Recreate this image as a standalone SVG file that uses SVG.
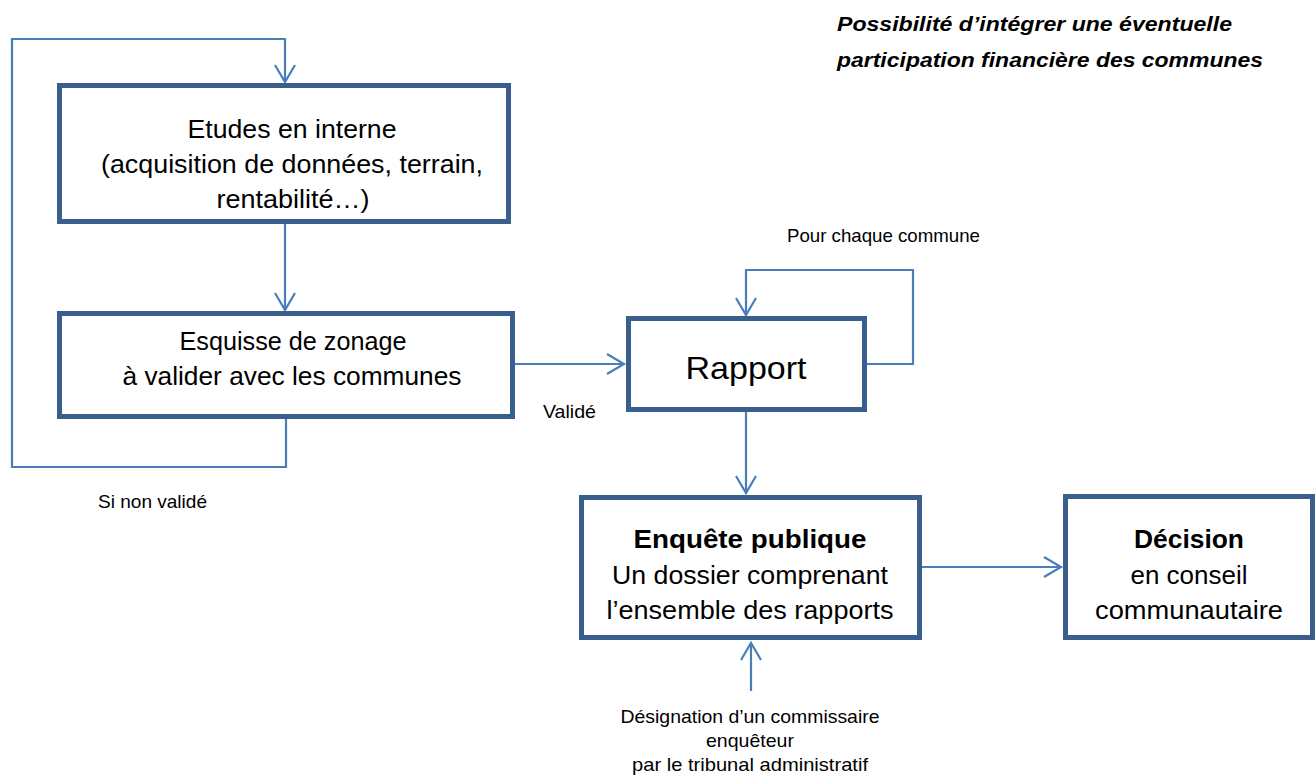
<svg xmlns="http://www.w3.org/2000/svg" width="1316" height="776" viewBox="0 0 1316 776">
<defs>
<style>
.box{fill:#ffffff;stroke:#3B5F8C;stroke-width:5}
.con{fill:none;stroke:#4A7EBB;stroke-width:2.2}
text{font-family:"Liberation Sans",Arial,sans-serif;fill:#000}
.main{font-size:26px;text-anchor:middle}
.big{font-size:32px;text-anchor:middle}
.bold{font-weight:bold}
.small{font-size:18.5px}
.mid{text-anchor:middle}
.note{font-size:19.5px;font-weight:bold;font-style:italic}
</style>
<marker id="arr" markerUnits="userSpaceOnUse" markerWidth="24" markerHeight="24" viewBox="-20 -12 24 24" refX="0" refY="0" orient="auto">
<path d="M-17,-10 L0,0 L-17,10" fill="none" stroke="#4A7EBB" stroke-width="2.2"/>
</marker>
</defs>
<rect width="1316" height="776" fill="#ffffff"/>

<g id="connectors">
<path class="con" d="M285,224 V310" marker-end="url(#arr)"/>
<path class="con" d="M286,419 V467 H12 V39 H285 V82" marker-end="url(#arr)"/>
<path class="con" d="M515,364 H624" marker-end="url(#arr)"/>
<path class="con" d="M867,364 H913 V270 H746 V315" marker-end="url(#arr)"/>
<path class="con" d="M746,412 V493" marker-end="url(#arr)"/>
<path class="con" d="M922,567 H1061" marker-end="url(#arr)"/>
<path class="con" d="M751,691 V643" marker-end="url(#arr)"/>
</g>

<g id="note">
<text class="note" x="837" y="31" textLength="395" lengthAdjust="spacingAndGlyphs">Possibilité d’intégrer une éventuelle</text>
<text class="note" x="837" y="67" textLength="426" lengthAdjust="spacingAndGlyphs">participation financière des communes</text>
</g>

<g id="etudes">
<rect class="box" x="59.5" y="85.5" width="449" height="136"/>
<text class="main" x="292" y="138" textLength="209" lengthAdjust="spacingAndGlyphs">Etudes en interne</text>
<text class="main" x="292" y="173" textLength="382" lengthAdjust="spacingAndGlyphs">(acquisition de données, terrain,</text>
<text class="main" x="293" y="208" textLength="153" lengthAdjust="spacingAndGlyphs">rentabilité…)</text>
</g>

<g id="esquisse">
<rect class="box" x="59.5" y="313.5" width="453" height="103"/>
<text class="main" x="293" y="350" textLength="227" lengthAdjust="spacingAndGlyphs">Esquisse de zonage</text>
<text class="main" x="292" y="385" textLength="339" lengthAdjust="spacingAndGlyphs">à valider avec les communes</text>
</g>

<g id="rapport">
<rect class="box" x="628.5" y="318.5" width="236" height="91"/>
<text class="big" x="746" y="379" textLength="121" lengthAdjust="spacingAndGlyphs">Rapport</text>
</g>

<g id="enquete">
<rect class="box" x="581.5" y="497.5" width="338" height="140"/>
<text class="main bold" x="750" y="548" textLength="233" lengthAdjust="spacingAndGlyphs">Enquête publique</text>
<text class="main" x="750" y="584" textLength="276" lengthAdjust="spacingAndGlyphs">Un dossier comprenant</text>
<text class="main" x="750" y="619" textLength="287" lengthAdjust="spacingAndGlyphs">l’ensemble des rapports</text>
</g>

<g id="decision">
<rect class="box" x="1065.5" y="496.5" width="247" height="141"/>
<text class="main bold" x="1189" y="548" textLength="110" lengthAdjust="spacingAndGlyphs">Décision</text>
<text class="main" x="1189" y="584" textLength="117" lengthAdjust="spacingAndGlyphs">en conseil</text>
<text class="main" x="1189" y="619" textLength="188" lengthAdjust="spacingAndGlyphs">communautaire</text>
</g>

<g id="labels">
<text class="small" x="543" y="418" textLength="53" lengthAdjust="spacingAndGlyphs">Validé</text>
<text class="small" x="98" y="508" textLength="109" lengthAdjust="spacingAndGlyphs">Si non validé</text>
<text class="small" x="787" y="242" textLength="193" lengthAdjust="spacingAndGlyphs">Pour chaque commune</text>
<text class="small mid" x="750" y="723" textLength="259" lengthAdjust="spacingAndGlyphs">Désignation d’un commissaire</text>
<text class="small mid" x="750" y="747" textLength="88" lengthAdjust="spacingAndGlyphs">enquêteur</text>
<text class="small mid" x="750" y="771" textLength="236" lengthAdjust="spacingAndGlyphs">par le tribunal administratif</text>
</g>
</svg>
